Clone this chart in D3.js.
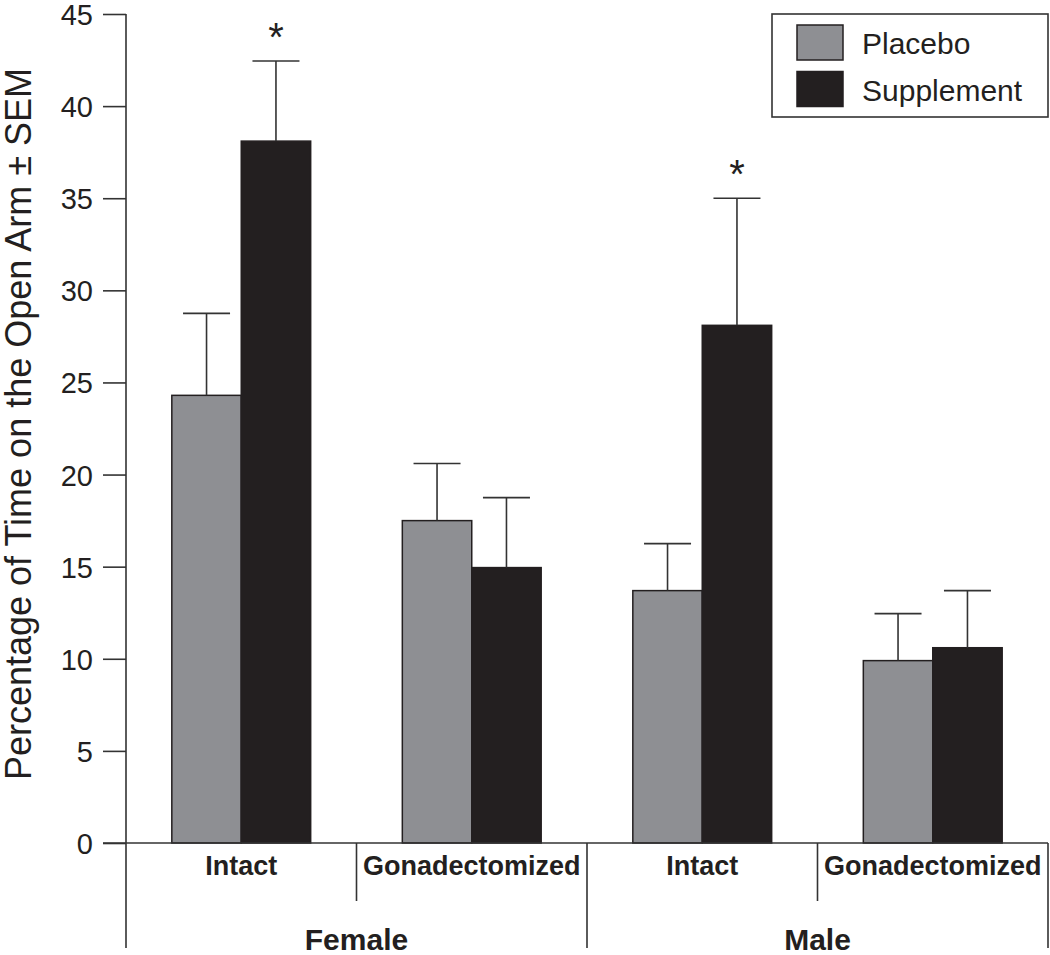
<!DOCTYPE html>
<html>
<head>
<meta charset="utf-8">
<script src="https://cdn.jsdelivr.net/npm/d3@7"></script>
<style>
  body { margin: 0; background: #fff; }
  text { font-family: "Liberation Sans", Arial, Helvetica, sans-serif; fill: #231f20; }
  .axis line, .rule { stroke: #333; stroke-width: 1.6; }
  .axis text { font-size: 29px; fill: #231f20; }
  .cond { font-size: 27px; font-weight: bold; }
  .sex { font-size: 30px; font-weight: bold; }
</style>
</head>
<body>
<script>
// data
var sexes       = ["Female", "Male"];
var conditions  = ["Intact", "Gonadectomized"];
var series      = ["Placebo", "Supplement"];
var placeboMean = [24.3, 17.5, 13.7, 9.9];
var placeboSEM  = [4.45, 3.1, 2.55, 2.55];
var suppMean    = [38.1, 14.95, 28.1, 10.6];
var suppSEM     = [4.35, 3.8, 6.9, 3.1];
var suppStar    = [true, false, true, false];
var yTicks      = [0, 5, 10, 15, 20, 25, 30, 35, 40, 45];
var colors      = {"Placebo": "#8e8f93", "Supplement": "#231f20"};

var W = 1050, H = 955;
var plotLeft = 126, plotRight = 1048, plotTop = 14, plotBase = 843;

// one row per bar
var cells = [];
sexes.forEach(function(s, i) {
  conditions.forEach(function(c, j) {
    var k = i * 2 + j;
    var cell = {key: s + "|" + c, sex: s, cond: c};
    cell["Placebo"]    = {mean: placeboMean[k], sem: placeboSEM[k], star: false};
    cell["Supplement"] = {mean: suppMean[k], sem: suppSEM[k], star: suppStar[k]};
    cells.push(cell);
  });
});
var bars = [];
cells.forEach(function(d) {
  series.forEach(function(sr) {
    bars.push({key: d.key, series: sr, mean: d[sr].mean, sem: d[sr].sem, star: d[sr].star});
  });
});

var svg = d3.select("body").append("svg")
    .attr("width", W)
    .attr("height", H);

var yScale = d3.scaleLinear()
    .domain([0, 45])
    .range([plotBase, plotTop]);

var xSex = d3.scaleBand()
    .domain(sexes)
    .range([plotLeft, plotRight]);

var xCell = d3.scaleBand()
    .domain(cells.map(function(d) { return d.key; }))
    .range([plotLeft, plotRight]);

var xSeries = d3.scaleBand()
    .domain(series)
    .range([0, xCell.bandwidth()])
    .paddingOuter(0.66);

// y axis
var yAxis = svg.append("g")
    .attr("class", "axis")
    .attr("transform", "translate(" + plotLeft + ",0)")
    .call(d3.axisLeft(yScale).tickValues(yTicks).tickSize(23).tickPadding(10));
yAxis.select(".domain").remove();
yAxis.selectAll(".tick text").attr("dy", "0.36em");

// bars
svg.selectAll(".bar")
    .data(bars).enter()
    .append("rect")
      .attr("class", "bar")
      .attr("x", function(d) { return xCell(d.key) + xSeries(d.series); })
      .attr("y", function(d) { return yScale(d.mean); })
      .attr("width", xSeries.bandwidth())
      .attr("height", function(d) { return plotBase - yScale(d.mean); })
      .attr("fill", function(d) { return colors[d.series]; })
      .attr("stroke", "#231f20")
      .attr("stroke-width", 1.5);

// error bars (upper half only)
var capHalf = 23.5;
var eb = svg.selectAll(".err")
    .data(bars).enter()
    .append("g")
      .attr("class", "err")
      .attr("transform", function(d) {
        return "translate(" + (xCell(d.key) + xSeries(d.series) + xSeries.bandwidth() / 2) + ",0)";
      });
eb.append("line")
    .attr("class", "rule")
    .attr("x1", 0).attr("x2", 0)
    .attr("y1", function(d) { return yScale(d.mean); })
    .attr("y2", function(d) { return yScale(d.mean + d.sem); });
eb.append("line")
    .attr("class", "rule")
    .attr("x1", -capHalf).attr("x2", capHalf)
    .attr("y1", function(d) { return yScale(d.mean + d.sem); })
    .attr("y2", function(d) { return yScale(d.mean + d.sem); });
eb.filter(function(d) { return d.star; })
  .append("text")
    .attr("y", function(d) { return yScale(d.mean + d.sem) - 10; })
    .attr("text-anchor", "middle")
    .style("font-size", "40px")
    .text("*");

// axes frame: y axis line, baseline, dividers
svg.append("line").attr("class", "rule")
    .attr("x1", plotLeft).attr("x2", plotLeft).attr("y1", plotTop).attr("y2", 948);
svg.append("line").attr("class", "rule")
    .attr("x1", plotLeft - 23).attr("x2", plotRight).attr("y1", plotBase).attr("y2", plotBase);

cells.forEach(function(d, i) {
  if (i == 0) return;
  var x = xCell(d.key);
  svg.append("line").attr("class", "rule")
      .attr("x1", x).attr("x2", x)
      .attr("y1", plotBase).attr("y2", i % 2 == 0 ? 948 : 901);
});
svg.append("line").attr("class", "rule")
    .attr("x1", plotRight).attr("x2", plotRight).attr("y1", plotBase).attr("y2", 948);

// category labels
svg.selectAll(".cond")
    .data(cells).enter()
    .append("text")
      .attr("class", "cond")
      .attr("x", function(d) { return xCell(d.key) + xCell.bandwidth() / 2; })
      .attr("y", 875)
      .attr("text-anchor", "middle")
      .text(function(d) { return d.cond; });

svg.selectAll(".sex")
    .data(sexes).enter()
    .append("text")
      .attr("class", "sex")
      .attr("x", function(d) { return xSex(d) + xSex.bandwidth() / 2; })
      .attr("y", 950)
      .attr("text-anchor", "middle")
      .text(function(d) { return d; });

// y label
svg.append("text")
    .attr("transform", "translate(31,424) rotate(-90)")
    .attr("text-anchor", "middle")
    .style("font-size", "36px")
    .text("Percentage of Time on the Open Arm \u00b1 SEM");

// legend
var lg = svg.append("g").attr("transform", "translate(772,14)");
lg.append("rect")
    .attr("width", 276).attr("height", 103)
    .attr("fill", "#fff").attr("stroke", "#333").attr("stroke-width", 1.6);
var li = lg.selectAll(".li")
    .data(series).enter()
    .append("g")
      .attr("transform", function(d, i) { return "translate(25," + (11 + i * 46.5) + ")"; });
li.append("rect")
    .attr("width", 46).attr("height", 35)
    .attr("fill", function(d) { return colors[d]; })
    .attr("stroke", "#231f20").attr("stroke-width", 1.5);
li.append("text")
    .attr("x", 65).attr("y", 29)
    .style("font-size", "30px")
    .text(function(d) { return d; });
</script>
</body>
</html>
